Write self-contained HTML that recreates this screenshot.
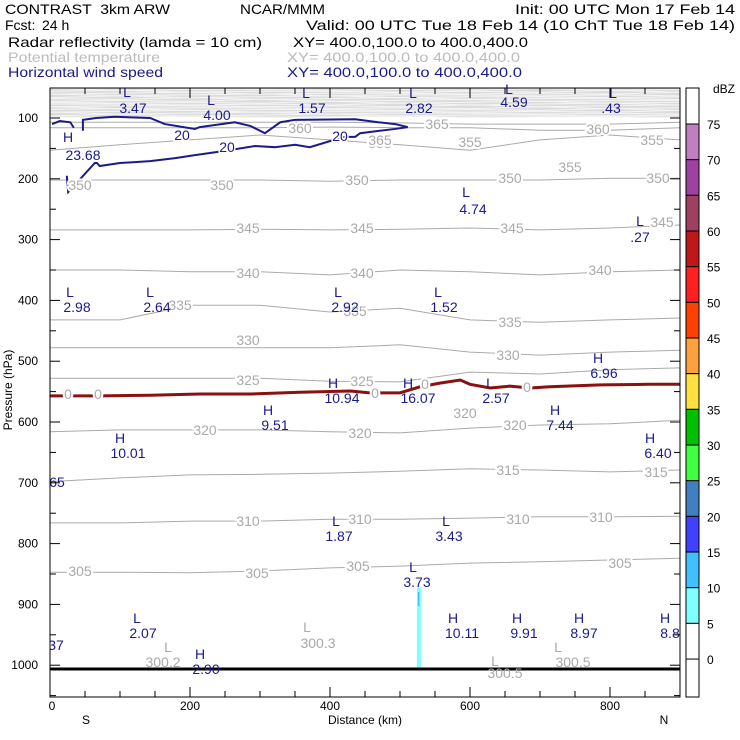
<!DOCTYPE html>
<html><head><meta charset="utf-8"><style>
html,body{margin:0;padding:0;background:#fff;width:740px;height:740px;overflow:hidden}
svg{display:block;font-family:"Liberation Sans",sans-serif}
.n{fill:#1a1a8c;font-size:14px}
.g{fill:#aaa;font-size:14px}
.gl{fill:#aaa;font-size:14px;stroke:#fff;stroke-width:4px;paint-order:stroke}
.nl{fill:#1a1a8c;font-size:14px;stroke:#fff;stroke-width:3px;paint-order:stroke}
.ax{font-size:12px;fill:#000}
.hd{font-size:14px;fill:#000}
</style></head><body>
<svg id="chart" width="740" height="740" viewBox="0 0 740 740">
<g id="plot"></g>
<g>
<text class="hd" x="5" y="14" textLength="165" lengthAdjust="spacingAndGlyphs" xml:space="preserve">CONTRAST  3km ARW</text>
<text class="hd" x="240" y="14" textLength="85" lengthAdjust="spacingAndGlyphs">NCAR/MMM</text>
<text class="hd" x="515" y="14" textLength="220" lengthAdjust="spacingAndGlyphs">Init: 00 UTC Mon 17 Feb 14</text>
<text class="hd" x="5" y="30">Fcst:</text>
<text class="hd" x="42" y="30">24 h</text>
<text class="hd" x="306" y="30" textLength="429" lengthAdjust="spacingAndGlyphs">Valid: 00 UTC Tue 18 Feb 14 (10 ChT Tue 18 Feb 14)</text>
<text class="hd" x="8" y="47" textLength="254" lengthAdjust="spacingAndGlyphs">Radar reflectivity (lamda = 10 cm)</text>
<text class="hd" x="293" y="47" textLength="235" lengthAdjust="spacingAndGlyphs">XY= 400.0,100.0 to 400.0,400.0</text>
<text class="hd" x="8" y="62" textLength="152" lengthAdjust="spacingAndGlyphs" style="fill:#bbb">Potential temperature</text>
<text class="hd" x="287" y="62" textLength="233" lengthAdjust="spacingAndGlyphs" style="fill:#bbb">XY= 400.0,100.0 to 400.0,400.0</text>
<text class="hd" x="8" y="77" textLength="155" lengthAdjust="spacingAndGlyphs" style="fill:#1a1a8c">Horizontal wind speed</text>
<text class="hd" x="287" y="77" textLength="235" lengthAdjust="spacingAndGlyphs" style="fill:#1a1a8c">XY= 400.0,100.0 to 400.0,400.0</text>
</g>
<g id="colorbar"></g>
<text class="ax" x="735" y="93" text-anchor="end">dBZ</text>
<text class="ax" x="12" y="390" transform="rotate(-90 12 390)" text-anchor="middle">Pressure (hPa)</text>
<text class="ax" x="365" y="724" text-anchor="middle">Distance (km)</text>
<text class="ax" x="86" y="724" text-anchor="middle">S</text>
<text class="ax" x="664" y="724" text-anchor="middle">N</text>
</svg>
<script>
const xTicks=[0,200,400,600,800];
const pTicks=[100,200,300,400,500,600,700,800,900,1000];
const profileKm=[0,100,200,300,400,500,600,700,800,900];
const thetaLevels=[305,310,315,320,325,330,335,340,345,350,355,360,365];
const th305=[847,847,848,845,840,837,832,830,827,824];
const th310=[766,766,763,763,760,760,758,756,756,755];
const th315=[698,692,687,686,684,681,677,679,682,679];
const th320=[616,613,613,613,616,618,610,605,603,597];
const th325=[528,528,528,528,533,534,518,521,514,511];
const th330=[478,478,478,478,478,473,485,490,485,482];
const th335=[432,432,408,408,419,413,432,436,432,429];
const th340=[350,350,353,353,358,350,353,358,353,350];
const th345=[284,284,284,283,284,283,281,284,281,276];
const th350=[202,202,202,202,204,202,202,202,199,199];
const th355=[153,144,136,128,136,144,153,136,128,136];
const th360=[116,116,116,116,115,116,116,120,120,116];
const th365=[107,107,107,107,107,108,110,110,110,107];
const thetaProfiles=[th305,th310,th315,th320,th325,th330,th335,th340,th345,th350,th355,th360,th365];
const upperP=[98,95,92,89,86,83,80,77,74,71,68,65,62,59,56,53];
const upperWiggle=[0,1,-1,1,0,-1,1,0,0,1];
const windAKm=[3,14,29,34];
const windAP=[110,105,107,116];
const windKm=[47,47,66,93,143,164,207,214,264,286,307,329,350,436,469,493,511,493,471,443,436,421,400,371,350,321,293,250,207,179,143,100,71,67,64,26,24];
const windP=[121,103,100,98,100,110,118,115,107,113,125,107,103,102,107,110,115,118,121,125,131,131,138,148,144,148,146,154,161,166,171,174,179,174,174,222,195];
const frzKm=[0,71,143,214,286,357,429,457,500,529,557,586,600,629,657,686,714,786,857,900];
const frzP=[557,557,556,554,554,551,549,552,552,542,536,531,538,544,541,544,542,539,538,538];
const reflKm=[527];
const reflTopP=[873];
const reflBotP=[1008];
const cbLevels=[75,70,65,60,55,50,45,40,35,30,25,20,15,10,5,0];
const cbColors=["#c080c0","#a040a0","#a04060","#c01818","#ff2020","#ff4000","#ffa040","#ffe040","#00c000","#40ff40","#4080c0","#4040ff","#40c0ff","#80ffff","#ffffff"];
const X0=50,X1=680,Y0=88,Y1=697;
function xs(k){return X0+k*0.7;}
function yp(p){return 118+(p-100)*0.608;}
const NS="http://www.w3.org/2000/svg";
const plot=document.getElementById('plot');
function mk(tag,attrs,parent){const e=document.createElementNS(NS,tag);for(const k in attrs)e.setAttribute(k,attrs[k]);(parent||plot).appendChild(e);return e;}
let fr=mk('rect',{x:X0,y:Y0,width:X1-X0,height:Y1-Y0,fill:'#fff'});


let ub=mk('rect',{x:X0,y:Y0,width:X1-X0,height:yp(98)-Y0,fill:'#dcdcdc'});


upperP.forEach((p,i)=>{
 const pts=profileKm.map((k,j)=>xs(k)+','+(yp(p)+upperWiggle[(j+i)%10]).toFixed(1)).join(' ');
 const l=mk('polyline',{points:pts,fill:'none',stroke:'#f4f4f4','stroke-width':1});
 
 
});
thetaProfiles.forEach((prof,i)=>{
 const pts=profileKm.map((k,j)=>xs(k)+','+yp(prof[j]).toFixed(1)).join(' ');
 const l=mk('polyline',{points:pts,fill:'none',stroke:'#aaa','stroke-width':1});
 
 
});
reflKm.forEach((k,i)=>{
 const r=mk('rect',{x:xs(k)-2,y:yp(reflTopP[i]),width:4,height:yp(reflBotP[i])-yp(reflTopP[i]),fill:'#80ffff'});
 
 
 const r2=mk('rect',{x:xs(k)-1,y:yp(reflTopP[i])+4,width:1.5,height:14,fill:'#40c0ff'});
 
 
});
let wa=mk('polyline',{points:windAKm.map((k,i)=>xs(k)+','+yp(windAP[i])).join(' '),fill:'none',stroke:'#1a1a8c','stroke-width':2});


let wb=mk('polyline',{points:windKm.map((k,i)=>xs(k)+','+yp(windP[i])).join(' '),fill:'none',stroke:'#1a1a8c','stroke-width':2});


let fz=mk('polyline',{points:frzKm.map((k,i)=>xs(k)+','+yp(frzP[i])).join(' '),fill:'none',stroke:'#8b1010','stroke-width':3});


let gl=mk('line',{x1:X0,x2:X1,y1:669,y2:669,stroke:'#000','stroke-width':3});


function lab(x,y,t,cls,name){const e=mk('text',{x:x,y:y,'class':cls,'text-anchor':'middle'});e.textContent=t;
 
 }
const thetaLab=[[80,576,'305'],[257,578,'305'],[358,571,'305'],[620,568,'305'],[248,526,'310'],[360,524,'310'],[518,524,'310'],[601,522,'310'],[508,475,'315'],[656,477,'315'],[205,435,'320'],[360,438,'320'],[465,418,'320'],[515,430,'320'],[248,385,'325'],[362,386,'325'],[248,345,'330'],[508,360,'330'],[180,310,'335'],[355,316,'335'],[510,327,'335'],[248,278,'340'],[362,278,'340'],[600,275,'340'],[248,233,'345'],[362,233,'345'],[512,233,'345'],[662,227,'345'],[80,190,'350'],[222,190,'350'],[357,185,'350'],[510,183,'350'],[658,183,'350'],[380,148,'355'],[470,147,'355'],[570,172,'355'],[652,145,'355'],[300,133,'360'],[380,145,'365'],[437,129,'365'],[598,134,'360']];
thetaLab.forEach(a=>lab(a[0],a[1],a[2],'gl','theta-label'));
const greyMarks=[[168,652,'L'],[163,667,'300.2'],[307,632,'L'],[318,648,'300.3'],[495,666,'L'],[505,678,'300.5'],[558,652,'L'],[573,667,'300.5']];
greyMarks.forEach(a=>lab(a[0],a[1],a[2],'g','theta-extremum'));
lab(68,399,'0','gl','freezing-label');lab(98,399,'0','gl','freezing-label');lab(375,398,'0','gl','freezing-label');lab(425,389,'0','gl','freezing-label');lab(527,392,'0','gl','freezing-label');
[[182,140,'20'],[227,152,'20'],[340,141,'20']].forEach(a=>lab(a[0],a[1],a[2],'nl','wind-contour-label'));
const windMarks=[[127,97,'L'],[133,113,'3.47'],[211,105,'L'],[217,120,'4.00'],[306,98,'L'],[312,113,'1.57'],[413,98,'L'],[419,113,'2.82'],[509,94,'L'],[514,107,'4.59'],[613,98,'L'],[611,113,'.43'],[68,142,'H'],[83,160,'23.68'],[466,197,'L'],[473,214,'4.74'],[640,226,'L'],[640,242,'.27'],[70,297,'L'],[77,312,'2.98'],[150,297,'L'],[157,312,'2.64'],[338,297,'L'],[345,312,'2.92'],[438,297,'L'],[444,312,'1.52'],[598,363,'H'],[604,378,'6.96'],[333,388,'H'],[342,403,'10.94'],[408,388,'H'],[418,403,'16.07'],[490,388,'L'],[496,403,'2.57'],[268,415,'H'],[275,430,'9.51'],[555,415,'H'],[560,430,'7.44'],[120,443,'H'],[128,458,'10.01'],[650,443,'H'],[658,458,'6.40'],[57,487,'65'],[336,526,'L'],[339,541,'1.87'],[446,526,'L'],[449,541,'3.43'],[413,572,'L'],[417,587,'3.73'],[137,623,'L'],[143,638,'2.07'],[453,623,'H'],[462,638,'10.11'],[517,623,'H'],[524,638,'9.91'],[579,623,'H'],[584,638,'8.97'],[665,623,'H'],[670,638,'8.8'],[56,650,'37'],[200,659,'H'],[206,674,'2.90']];
windMarks.forEach(a=>lab(a[0],a[1],a[2],'n','wind-extremum'));
let m1=mk('rect',{x:0,y:84,width:X0,height:656,fill:'#fff'});
let m2=mk('rect',{x:X1,y:84,width:6,height:626,fill:'#fff'});
let bx=mk('rect',{x:X0,y:Y0,width:X1-X0,height:Y1-Y0,fill:'none',stroke:'#000','stroke-width':1});


for(let k=0;k<=900;k+=50){const maj=(k%200===0);
 const t=mk('line',{x1:xs(k),x2:xs(k),y1:Y1,y2:Y1-(maj?10:6),stroke:'#000'});
 const t2=mk('line',{x1:xs(k),x2:xs(k),y1:Y0,y2:Y0+(maj?10:6),stroke:'#000'});}
xTicks.forEach(k=>lab(xs(k)+(k===0?2:0),710,String(k),'ax','x-tick-label'));
for(let p=100;p<=1050;p+=50){const maj=(p%100===0);const y=yp(p);if(y>Y1)continue;
 const t=mk('line',{x1:X0,x2:X0+(maj?10:6),y1:y,y2:y,stroke:'#000'});
 const t2=mk('line',{x1:X1,x2:X1-(maj?10:6),y1:y,y2:y,stroke:'#000'});}
pTicks.forEach(p=>{const e=mk('text',{x:38,y:yp(p)+4,'class':'ax','text-anchor':'end'});e.textContent=String(p);
 
 });
const cb=document.getElementById('colorbar');
const CX=686,CW=13,step=35.67,c75=124;
let cf=mk('rect',{x:CX,y:Y0,width:CW,height:Y1-Y0,fill:'#fff',stroke:'#000'},cb);

cbColors.forEach((c,i)=>{const r=mk('rect',{x:CX,y:c75+i*step,width:CW,height:step,fill:c,stroke:'#000','stroke-width':1},cb);
 
 });
cbLevels.forEach((v,i)=>{const e=mk('text',{x:707,y:c75+i*step+5,'class':'ax'},cb);e.textContent=String(v);
 
 });
</script>
</body></html>
